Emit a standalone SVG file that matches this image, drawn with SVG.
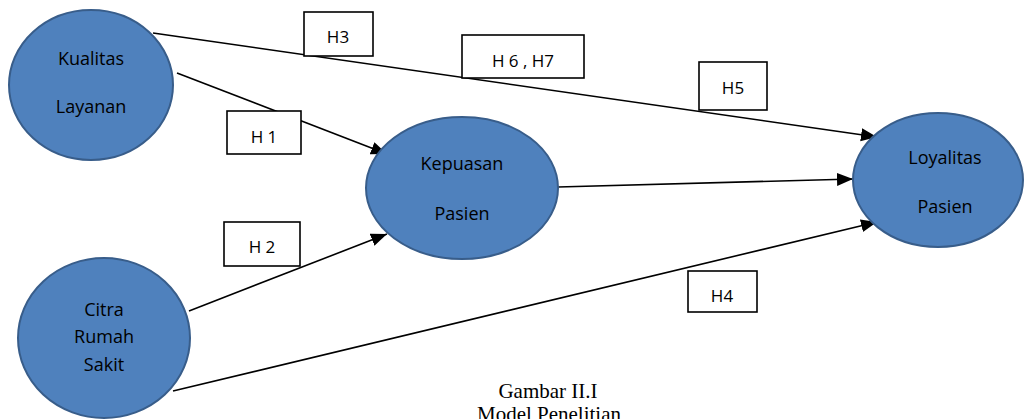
<svg xmlns="http://www.w3.org/2000/svg" width="1024" height="419" viewBox="0 0 1024 419">
<defs>
<style>
.node{fill:#4f81bd;stroke:#385d8a;stroke-width:2}
.nt{font-family:"Open Sans","Liberation Sans",sans-serif;font-size:18px;fill:#000;text-anchor:middle}
.edge{stroke:#000;stroke-width:1.6;fill:none}
.lbl{fill:#fff;stroke:#000;stroke-width:1.6}
.lt{font-family:"Open Sans","Liberation Sans",sans-serif;font-size:17px;fill:#000;text-anchor:middle}
.cap{font-family:"Liberation Serif","Times New Roman",serif;font-size:21px;fill:#000;text-anchor:middle}
</style>
<marker id="arr" markerUnits="userSpaceOnUse" markerWidth="18" markerHeight="14" refX="16" refY="6.5" orient="auto">
<path d="M0,0 L16,6.5 L0,13 z" fill="#000"/>
</marker>
</defs>
<rect width="1024" height="419" fill="#fff"/>
<g id="connectors">
<line class="edge" x1="153" y1="33" x2="877" y2="137" marker-end="url(#arr)"/>
<line class="edge" x1="177" y1="73" x2="387" y2="154" marker-end="url(#arr)"/>
<line class="edge" x1="189" y1="311" x2="387" y2="234" marker-end="url(#arr)"/>
<line class="edge" x1="173" y1="391" x2="877" y2="222" marker-end="url(#arr)"/>
<line class="edge" x1="558" y1="187" x2="853" y2="179" marker-end="url(#arr)"/>
</g>
<g id="kualitas">
<ellipse class="node" cx="91" cy="85" rx="82" ry="75"/>
<text class="nt" x="91" y="65">Kualitas</text>
<text class="nt" x="91" y="113">Layanan</text>
</g>
<g id="kepuasan">
<ellipse class="node" cx="462" cy="188" rx="96" ry="71"/>
<text class="nt" x="462" y="170">Kepuasan</text>
<text class="nt" x="462" y="220">Pasien</text>
</g>
<g id="loyalitas">
<ellipse class="node" cx="938" cy="180" rx="85" ry="67"/>
<text class="nt" x="945" y="164">Loyalitas</text>
<text class="nt" x="945" y="213">Pasien</text>
</g>
<g id="citra">
<ellipse class="node" cx="104" cy="338" rx="86" ry="80"/>
<text class="nt" x="104" y="316">Citra</text>
<text class="nt" x="104" y="343">Rumah</text>
<text class="nt" x="104" y="371">Sakit</text>
</g>
<g id="h3"><rect class="lbl" x="304" y="12" width="69" height="44"/><text class="lt" x="338" y="43">H3</text></g>
<g id="h1"><rect class="lbl" x="227" y="111" width="74" height="43"/><text class="lt" x="264" y="143">H 1</text></g>
<g id="h67"><rect class="lbl" x="462" y="35" width="122" height="43"/><text class="lt" x="523" y="67">H 6 , H7</text></g>
<g id="h5"><rect class="lbl" x="699" y="62" width="68" height="48"/><text class="lt" x="733" y="94">H5</text></g>
<g id="h2"><rect class="lbl" x="224" y="222" width="76" height="44"/><text class="lt" x="262" y="253">H 2</text></g>
<g id="h4"><rect class="lbl" x="688" y="271" width="69" height="41"/><text class="lt" x="722" y="302">H4</text></g>
<g id="caption">
<text class="cap" x="548" y="398">Gambar II.I</text>
<text class="cap" x="549" y="421">Model Penelitian</text>
</g>
</svg>
